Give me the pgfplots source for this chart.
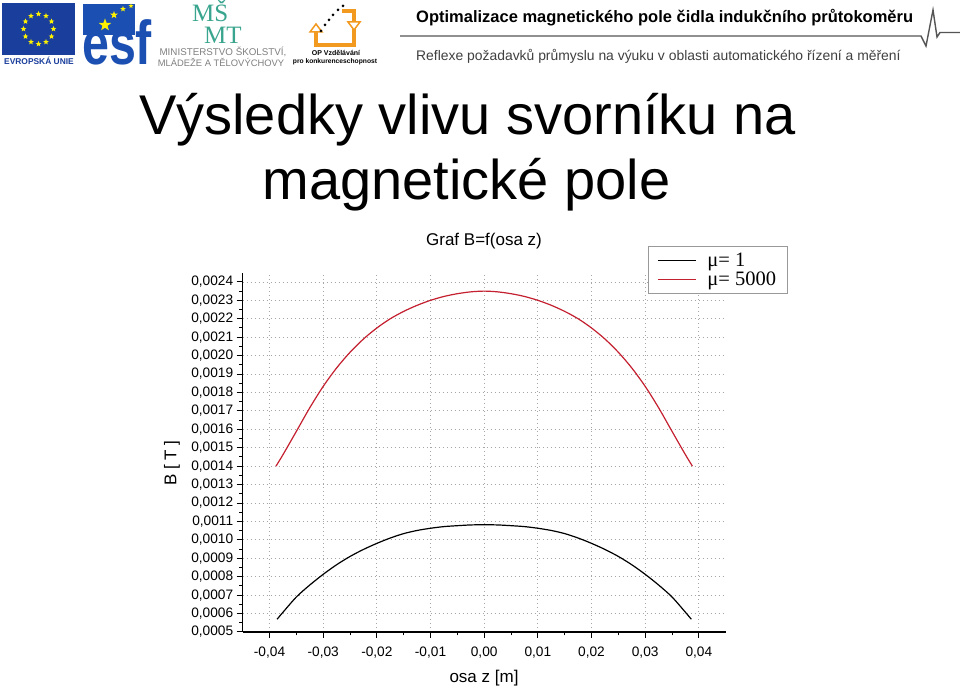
\documentclass[border=0pt]{standalone}
\usepackage{fontspec}
\setmainfont{Liberation Sans}
\newfontfamily\timesfont{Liberation Serif}
\usepackage{pgfplots}
\pgfplotsset{compat=1.18}
\usetikzlibrary{shapes.geometric}
\definecolor{eublue}{HTML}{1A3E9C}
\definecolor{esfblue}{HTML}{1B4FB2}
\definecolor{msmtteal}{HTML}{3AA58F}
\definecolor{oporange}{HTML}{F29A1F}
\definecolor{curvered}{HTML}{C42030}
\definecolor{headgray}{HTML}{555555}

% mu = 1
\pgfplotstableread{
z B
-0.0386 0.000569
-0.0375 0.000607
-0.0350 0.000690
-0.0325 0.000755
-0.0300 0.000813
-0.0275 0.000865
-0.0250 0.000910
-0.0225 0.000948
-0.0200 0.000981
-0.0175 0.001010
-0.0150 0.001034
-0.0125 0.001051
-0.0100 0.001063
-0.0075 0.001072
-0.0050 0.001077
-0.0025 0.001081
0.0000 0.001082
0.0025 0.001081
0.0050 0.001077
0.0075 0.001072
0.0100 0.001063
0.0125 0.001051
0.0150 0.001034
0.0175 0.001010
0.0200 0.000981
0.0225 0.000948
0.0250 0.000910
0.0275 0.000865
0.0300 0.000813
0.0325 0.000755
0.0350 0.000690
0.0375 0.000607
0.0386 0.000569
}\muone

% mu = 5000
\pgfplotstableread{
z B
-0.0388 0.001400
-0.0375 0.001462
-0.0350 0.001589
-0.0325 0.001717
-0.0300 0.001833
-0.0275 0.001933
-0.0250 0.002018
-0.0225 0.002090
-0.0200 0.002150
-0.0175 0.002200
-0.0150 0.002240
-0.0125 0.002273
-0.0100 0.002300
-0.0075 0.002321
-0.0050 0.002336
-0.0025 0.002346
0.0000 0.002350
0.0025 0.002346
0.0050 0.002336
0.0075 0.002321
0.0100 0.002300
0.0125 0.002273
0.0150 0.002240
0.0175 0.002200
0.0200 0.002150
0.0225 0.002090
0.0250 0.002018
0.0275 0.001933
0.0300 0.001833
0.0325 0.001717
0.0350 0.001589
0.0375 0.001462
0.0388 0.001400
}\mufivek

\begin{document}
\begin{tikzpicture}[x=1pt,y=1pt]
\path[use as bounding box, fill=white] (0,0) rectangle (960,692);

% ---- EU flag
\fill[eublue] (2,637) rectangle (75,689);
\foreach \a in {0,30,...,330}
  \path (38.5,663) ++(\a:15) node[star, star points=5, star point ratio=2.4, fill=yellow, inner sep=0pt, minimum size=6pt] {};
\node[text=eublue, font=\bfseries\fontsize{8.4}{9}\selectfont, inner sep=0] at (39,631) {EVROPSKÁ UNIE};

% ---- ESF
\fill[esfblue] (83,657) rectangle (135,688);
\node[star, star points=5, star point ratio=2.4, fill=yellow, inner sep=0pt, minimum size=13pt] at (105,667) {};
\node[star, star points=5, star point ratio=2.4, fill=yellow, inner sep=0pt, minimum size=8pt] at (114,677) {};
\node[star, star points=5, star point ratio=2.4, fill=yellow, inner sep=0pt, minimum size=6pt] at (123,683) {};
\node[star, star points=5, star point ratio=2.4, fill=yellow, inner sep=0pt, minimum size=5pt] at (131,686) {};
\node[text=esfblue, font=\bfseries\fontsize{62}{62}\selectfont, inner sep=0, anchor=base west, xscale=0.78] at (82,627) {esf};

% ---- MSMT
\node[text=msmtteal, font=\timesfont\fontsize{25}{25}\selectfont, inner sep=0, anchor=base west] at (192,670.5) {MŠ};
\node[text=msmtteal, font=\timesfont\fontsize{25}{25}\selectfont, inner sep=0, anchor=base west] at (204,648.5) {MT};
\node[text=gray, font=\fontsize{9.8}{10}\selectfont, inner sep=0] at (223,640) {MINISTERSTVO ŠKOLSTVÍ,};
\node[text=gray, font=\fontsize{9.4}{10}\selectfont, inner sep=0] at (221,629.5) {MLÁDEŽE A TĚLOVÝCHOVY};

% ---- OP logo
\draw[oporange, line width=3.5pt] (342,681) -- (354,681) -- (354,647) -- (316,647) -- (316,660);
\filldraw[fill=white, draw=oporange, line width=1.5pt] (310,660) -- (322,660) -- (316,668) -- cycle;
\filldraw[fill=white, draw=oporange, line width=1.5pt] (348,670) -- (360,670) -- (354,662) -- cycle;
\foreach \p in {(321,661),(325,667),(329,672),(333,677),(338,682),(343,686)}
  \fill[black] \p circle (1.5);
\node[font=\bfseries\fontsize{7}{8}\selectfont, inner sep=0] at (336,639) {OP Vzdělávání};
\node[font=\bfseries\fontsize{6.7}{8}\selectfont, inner sep=0] at (335,630) {pro konkurenceschopnost};

% ---- header
\node[anchor=base west, inner sep=0, font=\bfseries\fontsize{16.5}{18}\selectfont] at (416,669) {Optimalizace magnetického pole čidla indukčního průtokoměru};
\draw[headgray, line width=1.4pt] (400,656) -- (921,656) -- (926,646) -- (933,682) -- (937,655) -- (940,659.5) -- (960,659.5);
\node[anchor=base west, inner sep=0, text=black!75, font=\fontsize{13.9}{16}\selectfont] at (416,631) {Reflexe požadavků průmyslu na výuku v oblasti automatického řízení a měření};

% ---- slide title
\node[anchor=base, inner sep=0, font=\fontsize{56}{67}\selectfont] at (467.5,557) {Výsledky vlivu svorníku na};
\node[anchor=base, inner sep=0, font=\fontsize{56}{67}\selectfont] at (466.5,492) {magnetické pole};

% ---- chart
\begin{axis}[
  at={(242.7pt,60pt)}, anchor=south west,
  scale only axis, width=483pt, height=359.3pt,
  xmin=-0.045, xmax=0.045, ymin=0.0005, ymax=0.00245,
  axis x line*=bottom, axis y line*=left,
  axis line style={-, line width=1.1pt},
  xtick={-0.04,-0.03,-0.02,-0.01,0,0.01,0.02,0.03,0.04},
  ytick={0.0005,0.0006,0.0007,0.0008,0.0009,0.0010,0.0011,0.0012,0.0013,0.0014,0.0015,0.0016,0.0017,0.0018,0.0019,0.0020,0.0021,0.0022,0.0023,0.0024},
  minor x tick num=1, minor y tick num=1,
  tick align=outside,
  major tick length=6pt, minor tick length=3.5pt,
  tick style={black, line width=1pt},
  grid=major,
  major grid style={gray!70, dash pattern=on 1pt off 3pt, line width=0.8pt},
  scaled x ticks=false, scaled y ticks=false,
  /pgf/number format/assume math mode=true,
  x tick label style={/pgf/number format/fixed, /pgf/number format/fixed zerofill, /pgf/number format/precision=2, /pgf/number format/use comma, /pgf/number format/1000 sep={}, yshift=-5pt},
  y tick label style={/pgf/number format/fixed, /pgf/number format/fixed zerofill, /pgf/number format/precision=4, /pgf/number format/use comma, /pgf/number format/1000 sep={}},
  tick label style={font=\fontsize{13.7}{15}\selectfont},
  legend style={at={(0.839,1.074)}, anchor=north west, draw=gray!80, line width=0.6pt,
    font=\timesfont\fontsize{20.5}{20.5}\selectfont, inner xsep=9pt, inner ysep=4.25pt,
    row sep=0pt, cells={anchor=west},
    /tikz/every odd column/.append style={column sep=9pt}},
  legend image code/.code={\draw[#1, line width=1.2pt] (-2pt,0pt) -- (36pt,0pt);},
  clip=false,
]
\addplot[black, line width=1.2pt, smooth] table[x=z, y=B] {\muone};
\addlegendentry{μ= 1}
\addplot[curvered, line width=1.2pt, smooth] table[x=z, y=B] {\mufivek};
\addlegendentry{μ= 5000}
\end{axis}

\node[font=\fontsize{17}{19}\selectfont, inner sep=0] at (484,451) {Graf B=f(osa z)};
\node[font=\fontsize{17}{19}\selectfont, inner sep=0] at (484,14) {osa z [m]};
\node[font=\fontsize{17}{19}\selectfont, inner sep=0, rotate=90] at (172,229) {B [ T ]};
\end{tikzpicture}
\end{document}
